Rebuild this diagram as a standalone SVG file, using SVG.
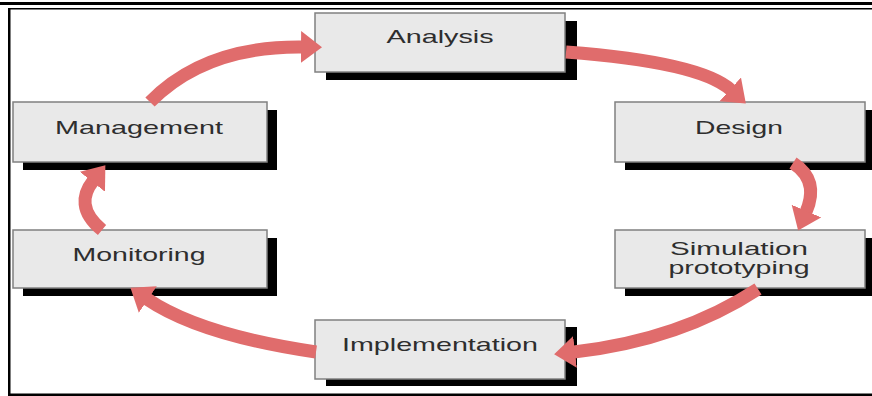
<svg xmlns="http://www.w3.org/2000/svg" width="872" height="396" viewBox="0 0 872 396">
<defs>
<style>
.box{fill:#e9e9e9;stroke:#808080;stroke-width:1.5}
.shadow{fill:#000}
.lbl{font-family:"Liberation Sans",Arial,sans-serif;font-size:19px;fill:#2e2e2e;text-anchor:middle}
.arr{fill:none;stroke:#e06c6c;stroke-width:13;marker-end:url(#head)}
</style>
<marker id="head" markerUnits="userSpaceOnUse" markerWidth="24" markerHeight="34" refX="1" refY="16" orient="auto">
<path d="M0,0 L21,16 L0,32 z" fill="#e06c6c"/>
</marker>
</defs>
<g id="frame">
<rect x="0" y="2" width="872" height="3" fill="#000"/>
<rect x="8" y="8" width="864" height="1.5" fill="#000"/>
<rect x="8" y="8" width="2.5" height="388" fill="#000"/>
<rect x="8" y="393.5" width="864" height="2.5" fill="#000"/>
</g>
<g id="node-analysis">
<rect class="shadow" x="326" y="21" width="251" height="59"/>
<rect class="box" x="315" y="13" width="250" height="59"/>
<text class="lbl" x="440" y="43" textLength="107" lengthAdjust="spacingAndGlyphs">Analysis</text>
</g>
<g id="node-design">
<rect class="shadow" x="625" y="110" width="247" height="60"/>
<rect class="box" x="615" y="102" width="250" height="60"/>
<text class="lbl" x="739" y="134" textLength="88" lengthAdjust="spacingAndGlyphs">Design</text>
</g>
<g id="node-simulation">
<rect class="shadow" x="625" y="238" width="247" height="58"/>
<rect class="box" x="615" y="230" width="250" height="58"/>
<text class="lbl" x="739" y="255" textLength="138" lengthAdjust="spacingAndGlyphs">Simulation</text>
<text class="lbl" x="739" y="274" textLength="141" lengthAdjust="spacingAndGlyphs">prototyping</text>
</g>
<g id="node-implementation">
<rect class="shadow" x="326" y="327" width="251" height="59"/>
<rect class="box" x="315" y="320" width="250" height="59"/>
<text class="lbl" x="440" y="351" textLength="196" lengthAdjust="spacingAndGlyphs">Implementation</text>
</g>
<g id="node-monitoring">
<rect class="shadow" x="23" y="238" width="254" height="58"/>
<rect class="box" x="13" y="230" width="254" height="58"/>
<text class="lbl" x="139" y="261" textLength="133" lengthAdjust="spacingAndGlyphs">Monitoring</text>
</g>
<g id="node-management">
<rect class="shadow" x="23" y="110" width="254" height="60"/>
<rect class="box" x="13" y="102" width="254" height="60"/>
<text class="lbl" x="139" y="134" textLength="168" lengthAdjust="spacingAndGlyphs">Management</text>
</g>
<g id="connectors">
<path class="arr" d="M150 102 Q205 46 302 47"/>
<path class="arr" d="M566 52 Q700 62 731 90"/>
<path class="arr" d="M793 163 C816 178 812 198 806 212"/>
<path class="arr" d="M758 289 Q680 340 574 352"/>
<path class="arr" d="M316 352 Q200 335 147 299"/>
<path class="arr" d="M102 230 C80 212 82 195 93 181"/>
</g>
</svg>
